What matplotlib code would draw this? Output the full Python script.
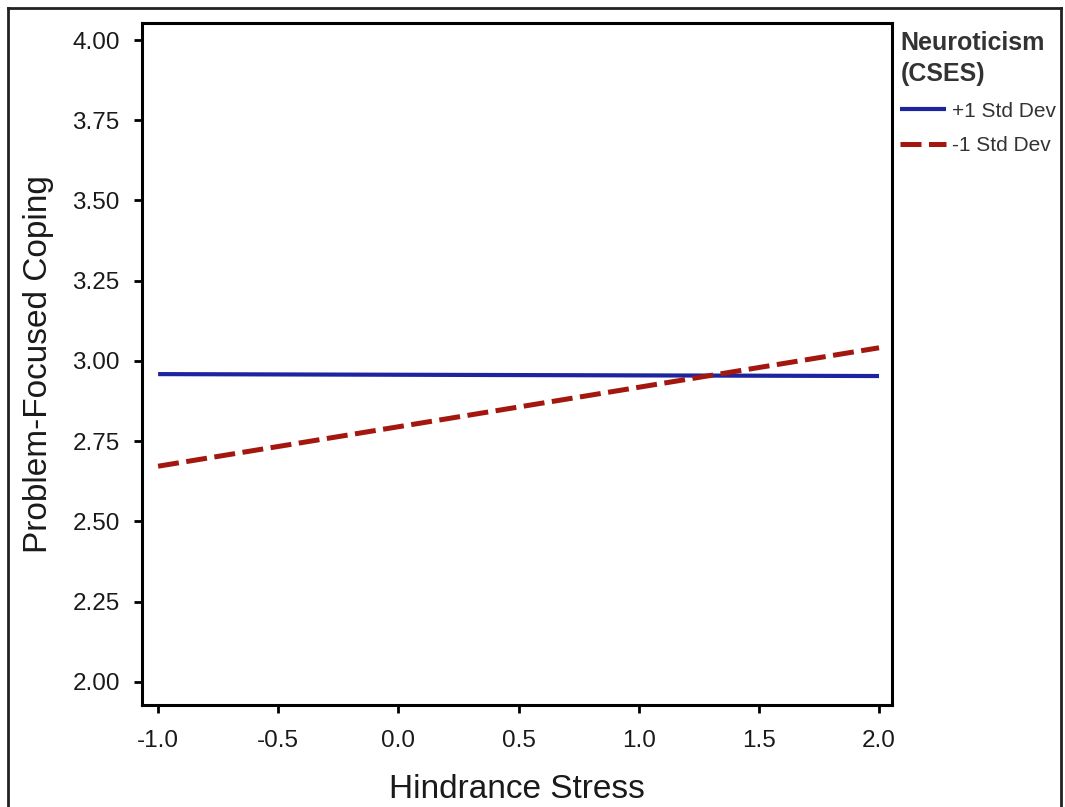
from matplotlib import pyplot as plt
from matplotlib.lines import Line2D

plt.rcParams['font.family'] = ['Liberation Sans', 'DejaVu Sans']

# simple slopes: hindrance stress at the two ends
stress = [-1.0, 2.0]
high_neuro = [2.959, 2.953]   # +1 Std Dev
low_neuro = [2.672, 3.041]    # -1 Std Dev
series_names = ['+1 Std Dev', '-1 Std Dev']

x_ticks = [-1.0, -0.5, 0.0, 0.5, 1.0, 1.5, 2.0]
y_ticks = [2.00, 2.25, 2.50, 2.75, 3.00, 3.25, 3.50, 3.75, 4.00]

fig = plt.figure(figsize=(10.65, 8.07), dpi=100)
ax = fig.add_axes([142 / 1065, 1 - 705 / 807, 750 / 1065, 682 / 807])

ax.plot(stress, high_neuro, color='#1c24a0', lw=3.0, solid_capstyle='butt', label=series_names[0])
ax.plot(stress, low_neuro, color='#a3170f', lw=3.6, dashes=(4.2, 1.5), label=series_names[1])

ax.set_xlim(-1.067, 2.054)
ax.set_ylim(1.928, 4.053)
ax.set_xticks(x_ticks)
ax.set_xticklabels([f'{v:.1f}' for v in x_ticks])
ax.set_yticks(y_ticks)
ax.set_yticklabels([f'{v:.2f}' for v in y_ticks])
ax.tick_params(direction='out', length=6, width=2, labelsize=17.5, labelcolor='#1a1a1a')
ax.tick_params(axis='y', pad=10)
ax.tick_params(axis='x', pad=12)
for sp in ax.spines.values():
    sp.set_linewidth(2.2)

ax.set_xlabel('Hindrance Stress', fontsize=24, color='#1a1a1a', labelpad=16)
ax.set_ylabel('Problem-Focused Coping', fontsize=24, color='#1a1a1a', labelpad=13)

leg = ax.legend(title='Neuroticism\n(CSES)', loc='upper left', bbox_to_anchor=(1.0, 1.0),
                frameon=False, fontsize=15, handlelength=2.2, handletextpad=0.3,
                borderaxespad=0.0, labelspacing=0.75, alignment='left')
leg.get_title().set_fontweight('bold')
leg.get_title().set_fontsize(18)
leg.get_title().set_linespacing(1.35)
leg.get_title().set_color('#333333')
for t in leg.get_texts():
    t.set_color('#333333')

# outer frame
for xs, ys in [([8 / 1065, 8 / 1065], [0, 1 - 8 / 807]),
               ([8 / 1065, 1061 / 1065], [1 - 8 / 807, 1 - 8 / 807]),
               ([1061 / 1065, 1061 / 1065], [0, 1 - 8 / 807])]:
    fig.add_artist(Line2D(xs, ys, color='#222222', lw=2, transform=fig.transFigure))

plt.savefig('out.png', dpi=100)
